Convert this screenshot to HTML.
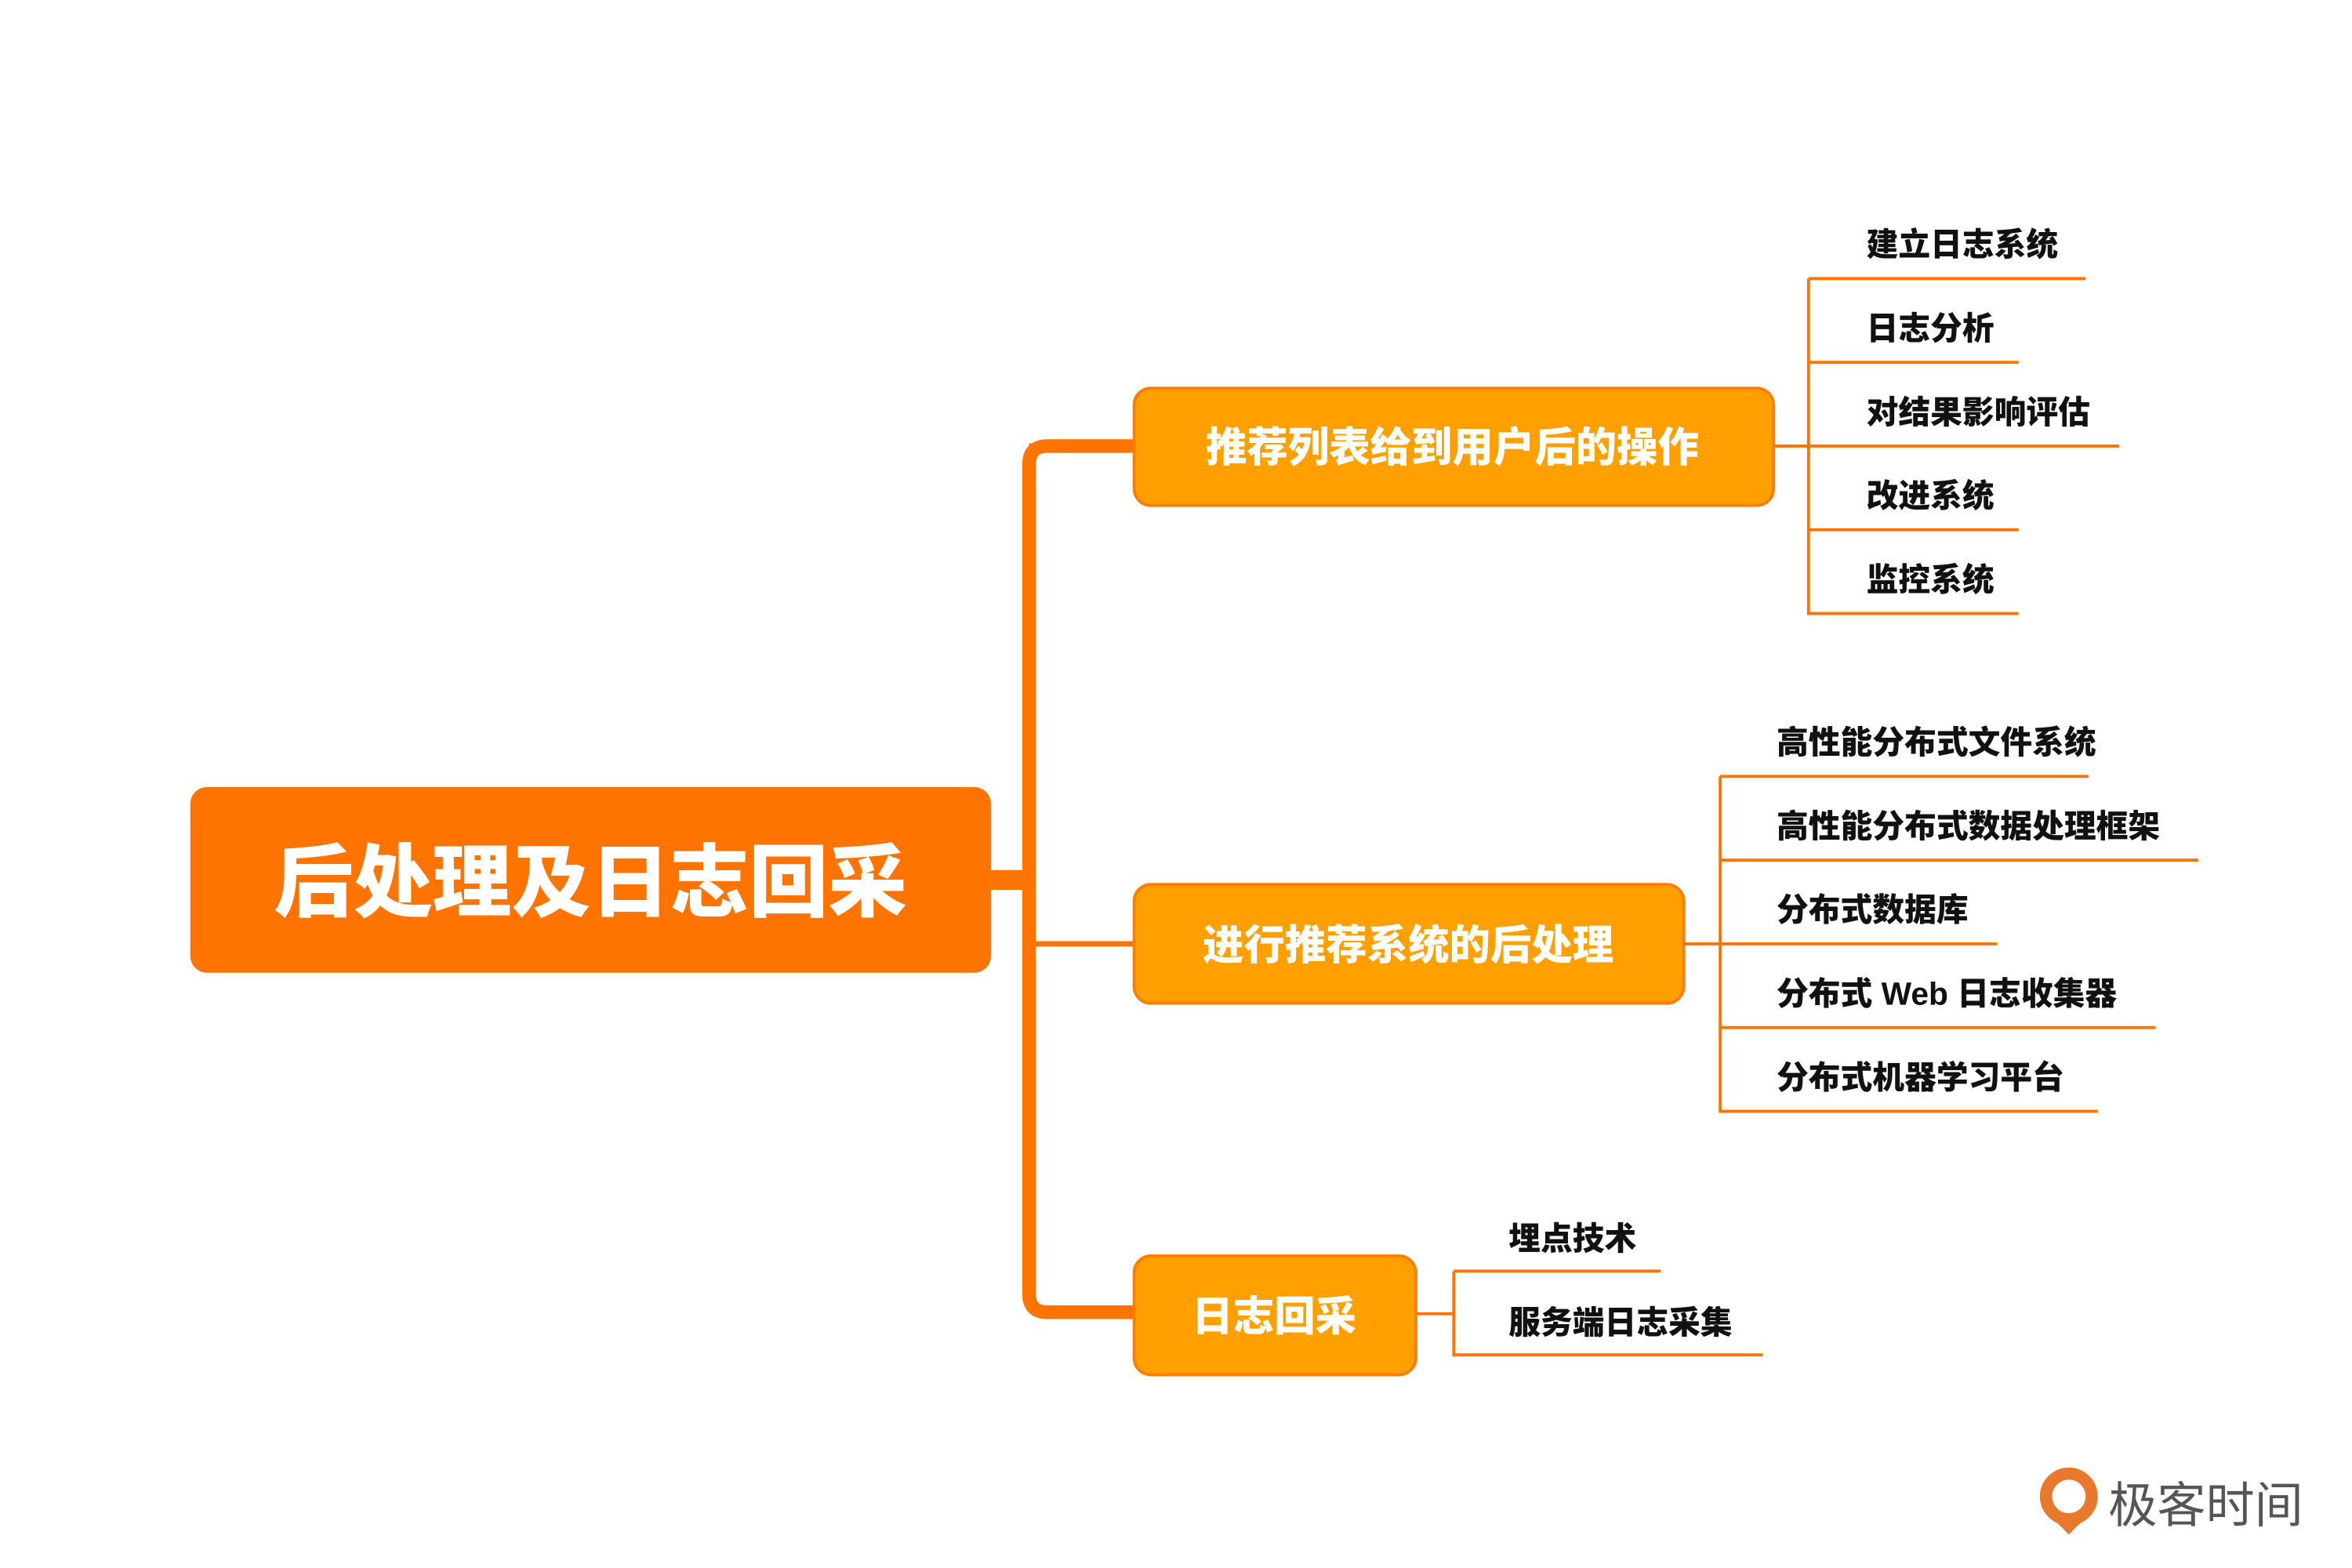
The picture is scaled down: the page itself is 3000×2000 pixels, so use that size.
<!DOCTYPE html>
<html><head><meta charset="utf-8"><style>
html,body{margin:0;padding:0;background:#fff;}
svg{display:block;}
text{font-family:"Liberation Sans","Noto Sans CJK SC",sans-serif;font-weight:900;}
</style></head><body>
<svg width="3000" height="2000" viewBox="0 0 1545 1030" xmlns="http://www.w3.org/2000/svg">
<rect x="0" y="0" width="1545" height="1030" fill="#fff"/>
<rect x="125" y="517" width="526" height="122" rx="11" fill="#ff7300"/>
<text x="388" y="598" font-size="52" fill="#fff" text-anchor="middle">后处理及日志回采</text>
<path d="M651 578 H680" stroke="#ff7300" stroke-width="13" fill="none"/>
<path d="M745 293 H688 Q676 293 676 305 V850 Q676 862 688 862 H745" stroke="#ff7300" stroke-width="9" fill="none"/>
<path d="M676 620 H745" stroke="#ff7300" stroke-width="3.5" fill="none"/>
<path d="M676 293 H745" stroke="#ff7300" stroke-width="3.5" fill="none"/>
<rect x="745" y="255" width="420" height="77" rx="11" fill="#ffa000" stroke="#ff7d00" stroke-width="2"/>
<text x="954" y="303" font-size="27" fill="#fff" text-anchor="middle">推荐列表给到用户后的操作</text>
<rect x="745" y="581" width="361" height="78" rx="11" fill="#ffa000" stroke="#ff7d00" stroke-width="2"/>
<text x="925" y="630" font-size="27" fill="#fff" text-anchor="middle">进行推荐系统的后处理</text>
<rect x="745" y="825" width="185" height="78" rx="11" fill="#ffa000" stroke="#ff7d00" stroke-width="2"/>
<text x="837" y="874" font-size="27" fill="#fff" text-anchor="middle">日志回采</text>
<g stroke="#ff7300" stroke-width="2" fill="none">
<path d="M1165 293 H1188 M1188 183 V404"/>
<path d="M1188 183 H1370 M1188 238 H1326 M1188 293 H1392 M1188 348 H1326 M1188 403 H1326"/>
<path d="M1106 620 H1130 M1130 510 V731"/>
<path d="M1130 510 H1372 M1130 565 H1444 M1130 620 H1312 M1130 675 H1416 M1130 730 H1378"/>
<path d="M930 863 H955 M955 835 V891"/>
<path d="M955 835 H1091 M955 890 H1158"/>
</g>
<g font-size="21" fill="#111">
<text x="1226" y="168">建立日志系统</text>
<text x="1226" y="223">日志分析</text>
<text x="1226" y="278">对结果影响评估</text>
<text x="1226" y="333">改进系统</text>
<text x="1226" y="388">监控系统</text>
<text x="1167" y="495">高性能分布式文件系统</text>
<text x="1167" y="550">高性能分布式数据处理框架</text>
<text x="1167" y="605">分布式数据库</text>
<text x="1167" y="660">分布式 Web 日志收集器</text>
<text x="1167" y="715">分布式机器学习平台</text>
<text x="991" y="821">埋点技术</text>
<text x="991" y="876">服务端日志采集</text>
</g>
<circle cx="1359" cy="983" r="15" fill="none" stroke="#e8782e" stroke-width="8"/>
<path d="M1346 995 Q1359 1003 1372 995 L1359 1008 Z" fill="#e8782e"/>
<text x="1385" y="1000" font-size="32" fill="#555" style="font-weight:normal">极客时间</text>
</svg>
</body></html>
